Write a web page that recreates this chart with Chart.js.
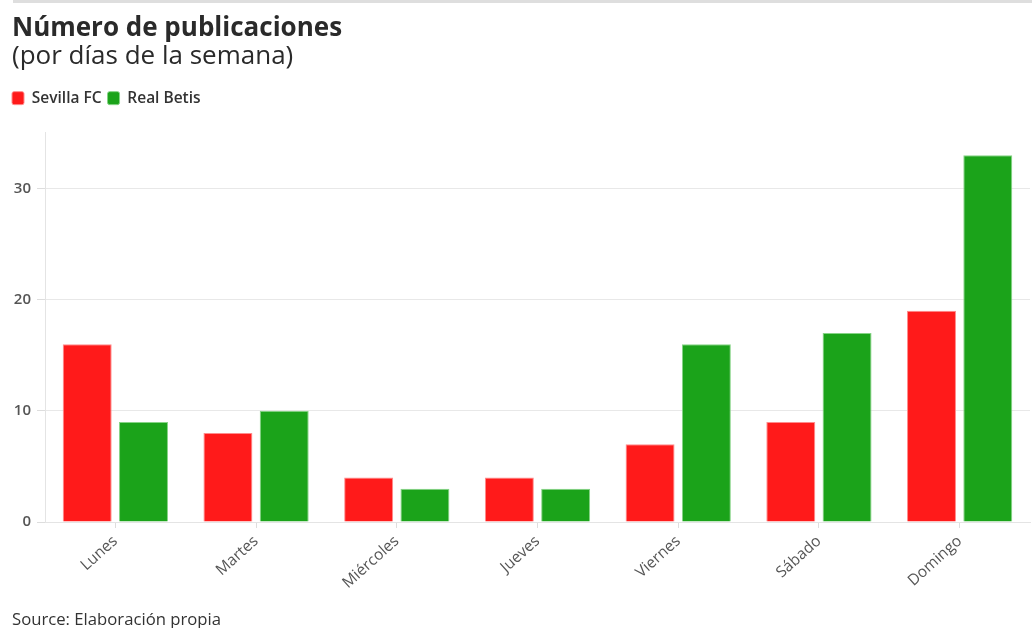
<!DOCTYPE html>
<html>
<head>
<meta charset="utf-8">
<script src="https://cdn.jsdelivr.net/npm/chart.js@4.4.1/dist/chart.umd.min.js"></script>
<style>
  html, body { margin: 0; padding: 0; background: #fff; }
  #wrap { position: relative; width: 1032px; height: 628px; overflow: hidden; font-family: "Open Sans", sans-serif; }
  #topline { position: absolute; left: 13px; right: 0; top: 0; height: 3px; background: #dedede; }
  #source { position: absolute; left: 12px; top: 608px; font-size: 16.7px; color: #333; line-height: 22px; font-weight: 500; }
  canvas { position: absolute; left: 0; top: 0; }
</style>
</head>
<body>
<div id="wrap">
  <div id="topline"></div>
  <canvas id="chart" width="1032" height="628"></canvas>
  <div id="source">Source: Elaboración propia</div>
</div>
<script>
// datos
const dias = ['Lunes', 'Martes', 'Miércoles', 'Jueves', 'Viernes', 'Sábado', 'Domingo'];
const sevilla = [16, 8, 4, 4, 7, 9, 19];
const betis = [9, 10, 3, 3, 16, 17, 33];
const yTicks = [0, 10, 20, 30];

// espacio extra bajo la leyenda y leyenda alineada con el título
const legendGap = {
    id: 'legendGap',
    beforeInit(chart) {
        const origFit = chart.legend.fit;
        chart.legend.fit = function () {
            origFit.bind(chart.legend)();
            this.height += 17;
        };
    },
    afterLayout(chart) {
        chart.legend.left -= 6;
    }
};

const ctx = document.getElementById('chart').getContext('2d');

new Chart(ctx, {
    type: 'bar',
    data: {
        labels: dias,
        datasets: [
            {
                label: 'Sevilla FC',
                data: sevilla,
                backgroundColor: '#ff1a1a',
                borderColor: '#ff8c8c',
                borderWidth: 1
            },
            {
                label: 'Real Betis',
                data: betis,
                backgroundColor: '#1ba31a',
                borderColor: '#86d486',
                borderWidth: 1
            }
        ]
    },
    options: {
        responsive: false,
        animation: false,
        categoryPercentage: 0.8,
        barPercentage: 0.87,
        layout: { padding: { top: 6, left: 12, right: 2, bottom: 36 } },
        scales: {
            x: {
                grid: { display: true, drawOnChartArea: false, offset: false, color: '#dddddd', tickLength: 6 },
                border: { color: '#e4e4e4' },
                ticks: {
                    color: '#555',
                    font: { family: 'Open Sans', size: 15.5 },
                    maxRotation: 42,
                    minRotation: 42,
                    padding: 4
                },
                afterFit: (scale) => { scale.height = 70; }
            },
            y: {
                min: 0,
                max: 35,
                afterBuildTicks: (scale) => { scale.ticks = yTicks.map(v => ({ value: v })); },
                grid: { color: '#e8e8e8', tickLength: 8, tickColor: '#dddddd' },
                border: { color: '#e4e4e4' },
                ticks: {
                    color: '#555',
                    font: { family: 'Open Sans', size: 15, weight: '600' },
                    padding: 6
                },
                afterFit: (scale) => { scale.width = 33; }
            }
        },
        plugins: {
            title: {
                display: true,
                align: 'start',
                text: 'Número de publicaciones',
                color: '#2a2a2a',
                font: { family: 'Open Sans', size: 26, weight: 'bold' },
                padding: { top: 7, bottom: 0 }
            },
            subtitle: {
                display: true,
                align: 'start',
                text: '(por días de la semana)',
                color: '#2a2a2a',
                font: { family: 'Open Sans', size: 26 },
                padding: { top: -3, bottom: 12 }
            },
            legend: {
                align: 'start',
                labels: {
                    color: '#333',
                    font: { family: 'Open Sans', size: 15.5, weight: '600' },
                    useBorderRadius: true,
                    borderRadius: 2,
                    boxWidth: 12,
                    boxHeight: 13,
                    padding: 6
                }
            },
            tooltip: { enabled: false }
        }
    },
    plugins: [legendGap]
});
</script>
</body>
</html>
